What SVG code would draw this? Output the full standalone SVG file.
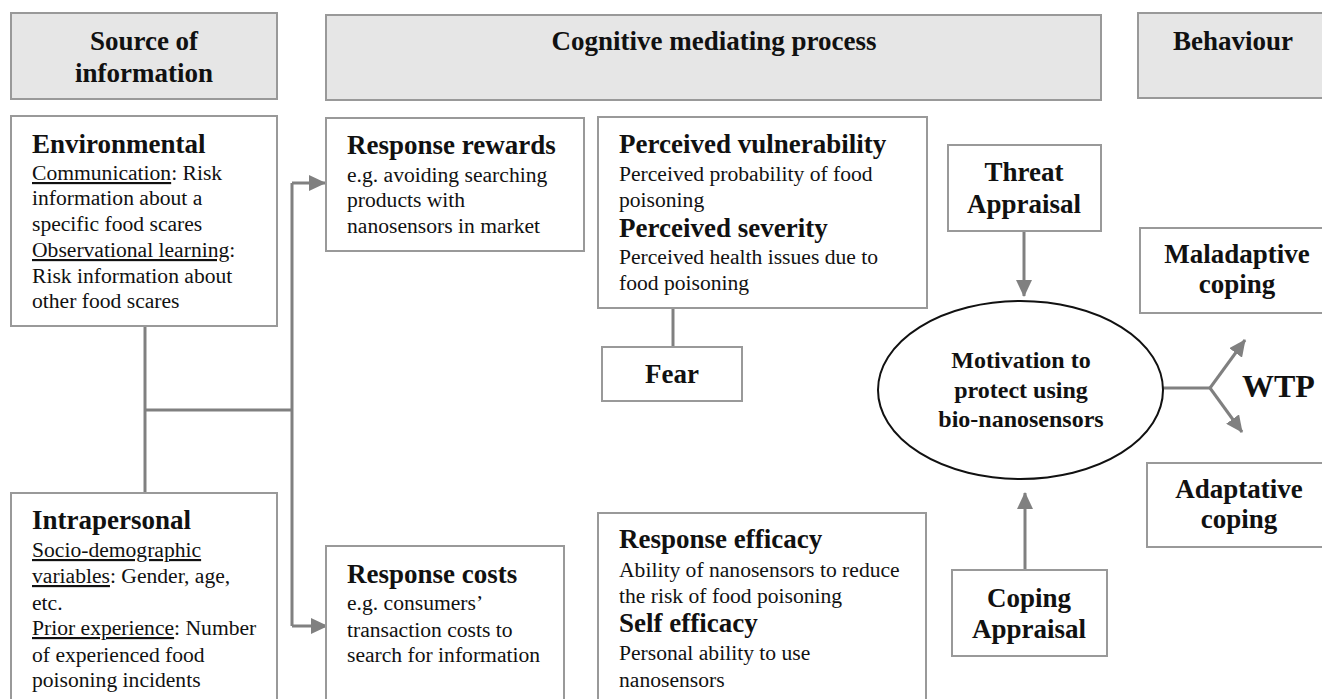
<svg xmlns="http://www.w3.org/2000/svg" width="1322" height="699" viewBox="0 0 1322 699">
<style>
.hdr{fill:#e6e6e6;stroke:#999;stroke-width:2}
.box{fill:#fff;stroke:#999;stroke-width:2}
.t{font-family:"Liberation Serif","Times New Roman",serif;fill:#111}
.b{font-weight:bold}
.h{font-size:27px;font-weight:bold;text-anchor:middle}
.ti{font-size:27px;font-weight:bold}
.bd{font-size:21.6px}
.u{text-decoration:underline}
.c{fill:none;stroke:#808080;stroke-width:3}
</style>
<defs>
<marker id="ah" markerUnits="userSpaceOnUse" markerWidth="18" markerHeight="16" refX="16" refY="8" orient="auto" viewBox="0 0 18 16">
<path d="M0,0 L17,8 L0,16 z" fill="#808080"/>
</marker>
</defs>
<rect width="1322" height="699" fill="#fff"/>

<g id="hdr-source">
<rect class="hdr" x="11" y="13" width="266" height="86"/>
<text class="t h" x="144" y="50">Source of</text>
<text class="t h" x="144" y="82">information</text>
</g>
<g id="hdr-cognitive">
<rect class="hdr" x="326" y="15" width="775" height="85"/>
<text class="t h" x="714" y="50">Cognitive mediating process</text>
</g>
<g id="hdr-behaviour">
<rect class="hdr" x="1138" y="13" width="200" height="85"/>
<text class="t h" x="1233" y="50">Behaviour</text>
</g>

<g id="connectors">
<path class="c" d="M145,326 V493"/>
<path class="c" d="M145,410 H292"/>
<path class="c" d="M292,183 V626"/>
<path class="c" d="M292,183 H325" marker-end="url(#ah)"/>
<path class="c" d="M292,626 H327" marker-end="url(#ah)"/>
<path class="c" d="M673,308 V347"/>
<path class="c" d="M1024,231 V296" marker-end="url(#ah)"/>
<path class="c" d="M1025,570 V493" marker-end="url(#ah)"/>
<path class="c" d="M1163,388 H1210"/>
<path class="c" d="M1210,388 L1245,340" marker-end="url(#ah)"/>
<path class="c" d="M1210,388 L1242,432" marker-end="url(#ah)"/>
</g>

<g id="environmental">
<rect class="box" x="11" y="116" width="266" height="210"/>
<text class="t ti" x="32" y="153">Environmental</text>
<text class="t bd" x="32" y="180"><tspan class="u">Communication</tspan>: Risk</text>
<text class="t bd" x="32" y="205">information about a</text>
<text class="t bd" x="32" y="231">specific food scares</text>
<text class="t bd" x="32" y="257"><tspan class="u">Observational learning</tspan>:</text>
<text class="t bd" x="32" y="283">Risk information about</text>
<text class="t bd" x="32" y="308">other food scares</text>
</g>

<g id="intrapersonal">
<rect class="box" x="11" y="493" width="266" height="215"/>
<text class="t ti" x="32" y="529">Intrapersonal</text>
<text class="t bd" x="32" y="557"><tspan class="u">Socio-demographic</tspan></text>
<text class="t bd" x="32" y="583"><tspan class="u">variables</tspan>: Gender, age,</text>
<text class="t bd" x="32" y="610">etc.</text>
<text class="t bd" x="32" y="635"><tspan class="u">Prior experience</tspan>: Number</text>
<text class="t bd" x="32" y="662">of experienced food</text>
<text class="t bd" x="32" y="687">poisoning incidents</text>
</g>

<g id="response-rewards">
<rect class="box" x="326" y="118" width="258" height="133"/>
<text class="t ti" x="347" y="154">Response rewards</text>
<text class="t bd" x="347" y="182">e.g. avoiding searching</text>
<text class="t bd" x="347" y="207">products with</text>
<text class="t bd" x="347" y="233">nanosensors in market</text>
</g>

<g id="response-costs">
<rect class="box" x="326" y="546" width="238" height="165"/>
<text class="t ti" x="347" y="583">Response costs</text>
<text class="t bd" x="347" y="610">e.g. consumers’</text>
<text class="t bd" x="347" y="637">transaction costs to</text>
<text class="t bd" x="347" y="662">search for information</text>
</g>

<g id="perceived">
<rect class="box" x="598" y="117" width="329" height="191"/>
<text class="t ti" x="619" y="153">Perceived vulnerability</text>
<text class="t bd" x="619" y="181">Perceived probability of food</text>
<text class="t bd" x="619" y="207">poisoning</text>
<text class="t ti" x="619" y="237">Perceived severity</text>
<text class="t bd" x="619" y="264">Perceived health issues due to</text>
<text class="t bd" x="619" y="290">food poisoning</text>
</g>

<g id="fear">
<rect class="box" x="602" y="347" width="140" height="54"/>
<text class="t h" x="672" y="383">Fear</text>
</g>

<g id="efficacy">
<rect class="box" x="598" y="513" width="328" height="200"/>
<text class="t ti" x="619" y="548">Response efficacy</text>
<text class="t bd" x="619" y="577">Ability of nanosensors to reduce</text>
<text class="t bd" x="619" y="603">the risk of food poisoning</text>
<text class="t ti" x="619" y="632">Self efficacy</text>
<text class="t bd" x="619" y="660">Personal ability to use</text>
<text class="t bd" x="619" y="687">nanosensors</text>
</g>

<g id="threat">
<rect class="box" x="948" y="145" width="153" height="86"/>
<text class="t h" x="1024" y="181">Threat</text>
<text class="t h" x="1024" y="213">Appraisal</text>
</g>

<g id="motivation">
<ellipse cx="1020.5" cy="390" rx="142.5" ry="89" fill="#fff" stroke="#111" stroke-width="2"/>
<text class="t b" x="1021" y="368" font-size="24" text-anchor="middle">Motivation to</text>
<text class="t b" x="1021" y="398" font-size="24" text-anchor="middle">protect using</text>
<text class="t b" x="1021" y="427" font-size="24" text-anchor="middle">bio-nanosensors</text>
</g>

<g id="coping">
<rect class="box" x="952" y="570" width="155" height="86"/>
<text class="t h" x="1029" y="607">Coping</text>
<text class="t h" x="1029" y="638">Appraisal</text>
</g>

<g id="maladaptive">
<rect class="box" x="1140" y="228" width="200" height="85"/>
<text class="t h" x="1237" y="263">Maladaptive</text>
<text class="t h" x="1237" y="293">coping</text>
</g>

<g id="adaptative">
<rect class="box" x="1147" y="463" width="200" height="84"/>
<text class="t h" x="1239" y="498">Adaptative</text>
<text class="t h" x="1239" y="528">coping</text>
</g>

<g id="wtp">
<text class="t b" x="1242" y="397" font-size="32">WTP</text>
</g>
</svg>
